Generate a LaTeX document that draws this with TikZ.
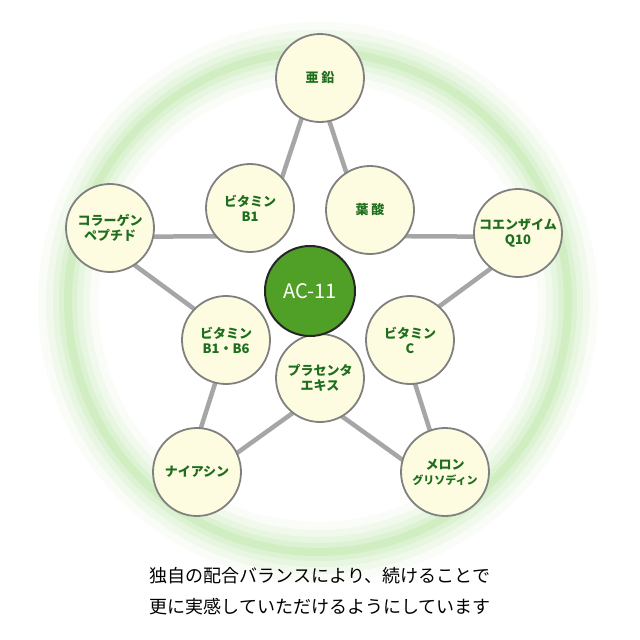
\documentclass[tikz,border=0pt]{standalone}
\usepackage{fontspec}
\usetikzlibrary{calc}
\newfontfamily\cjk{Noto Sans CJK JP}
\begin{document}
\begin{tikzpicture}[x=1pt,y=-1pt,
  item/.style={circle,draw=black!50,line width=1.8pt,fill={rgb,255:red,253;green,252;blue,224},minimum size=88pt,inner sep=0pt,align=center,font=\cjk\bfseries\fontsize{13}{15}\selectfont,text={rgb,255:red,30;green,110;blue,30}},
  core/.style={circle,draw=black!85,line width=2pt,fill={rgb,255:red,80;green,160;blue,40},minimum size=90pt,inner sep=0pt,text=white,font=\cjk\fontsize{20}{22}\selectfont}]
\useasboundingbox (0,0) rectangle (640,640);
\fill[white] (0,0) rectangle (640,640);
\foreach \w/\o in {60/0.03,44/0.04,30/0.05,18/0.06,8/0.07}
  \draw[green!50!olive,opacity=\o,line width=\w pt] (318,302) circle (250);
\draw[line width=4.5pt,draw=black!35,fill=white,line join=miter]
  ($(315,308)+(90:-230)$)
  \foreach \i in {0,...,4}{
    -- ($(315,308)+({90+36+72*\i}:-89)$)
    -- ($(315,308)+({90+72+72*\i}:-230)$)
  } -- cycle;
\node[item] (zn) at (320,78) {亜 鉛};
\node[item] (q10) at (518,233) {コエンザイム\\Q10};
\node[item] (mel) at (445,472) {メロン\\{\fontsize{11}{13}\selectfont グリソディン}};
\node[item] (nia) at (197,472) {ナイアシン};
\node[item] (col) at (110,228) {コラーゲン\\ペプチド};
\node[item] (b1) at (250,208) {ビタミン\\B1};
\node[item] (yo) at (370,210) {葉 酸};
\node[item] (vc) at (410,340) {ビタミン\\C};
\node[item] (b6) at (226,340) {ビタミン\\B1・B6};
\node[item] (pl) at (320,378) {プラセンタ\\エキス};
\node[core] (ac) at (310,291) {AC-11};
\node[font=\cjk\fontsize{18}{31}\selectfont,align=center] (cap) at (320,591) {独自の配合バランスにより、続けることで\\更に実感していただけるようにしています};
\end{tikzpicture}
\end{document}
